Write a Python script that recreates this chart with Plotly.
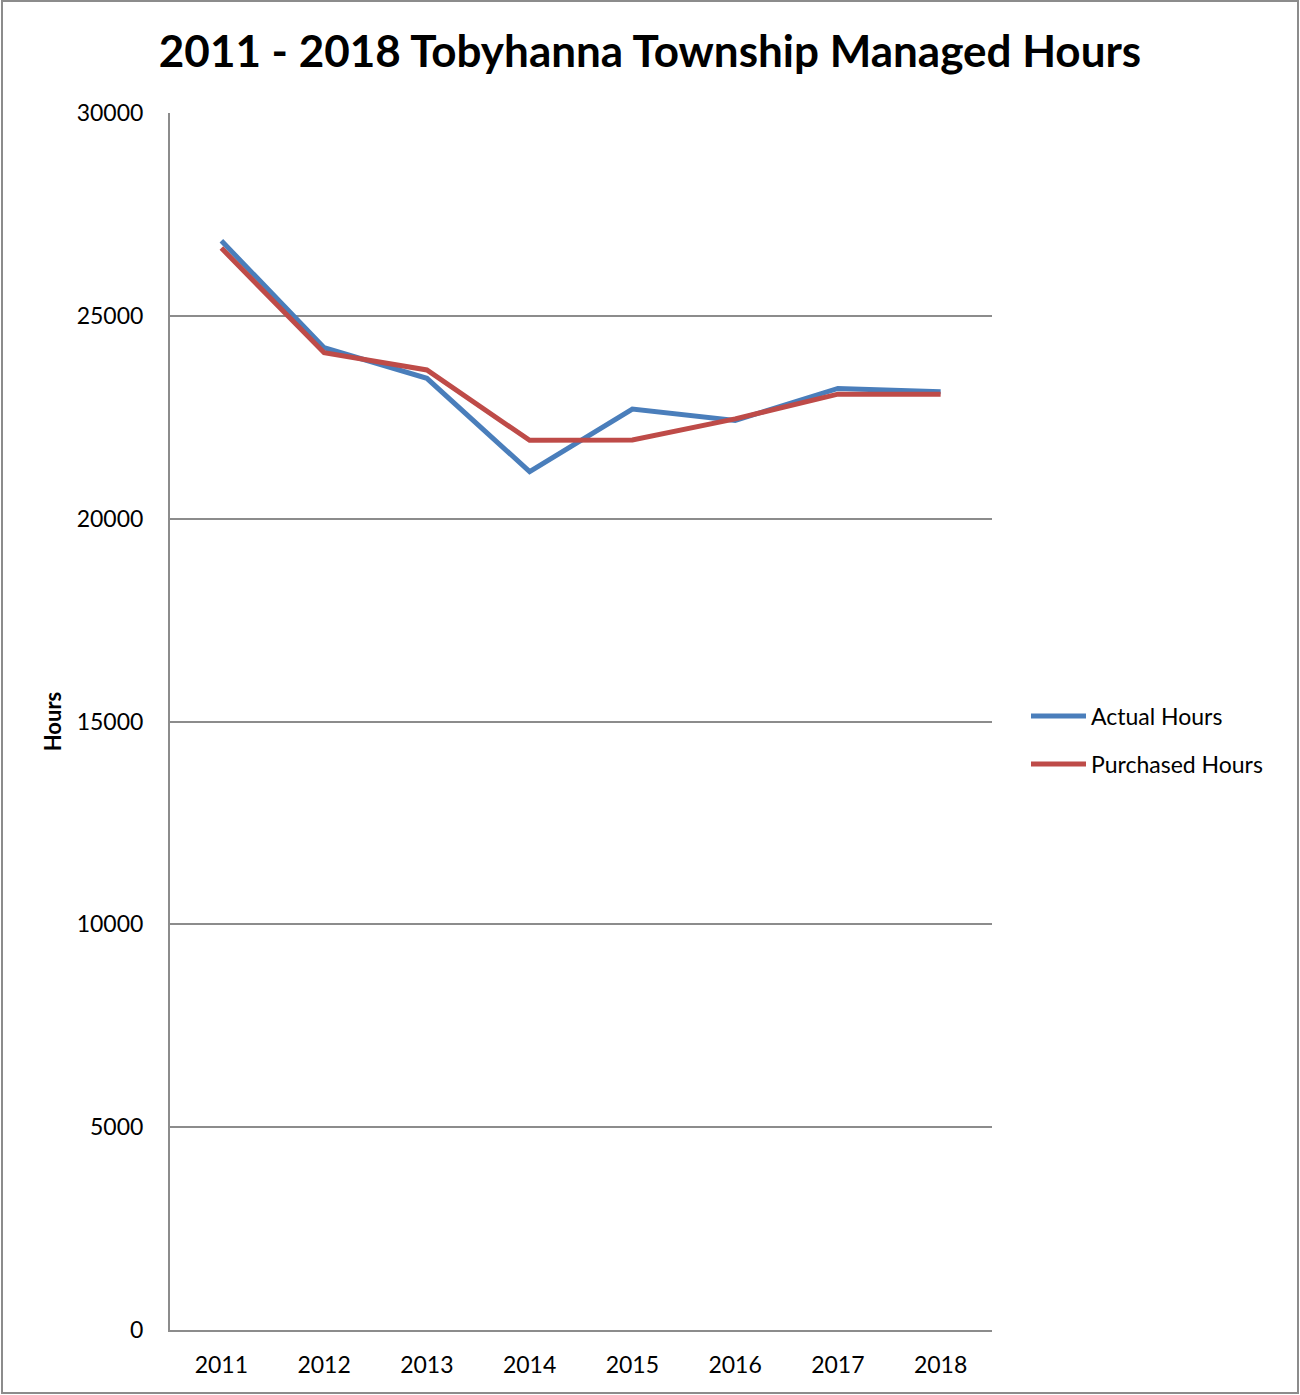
import plotly.graph_objects as go

years = ["2011", "2012", "2013", "2014", "2015", "2016", "2017", "2018"]
actual_hours = [26850, 24215, 23460, 21160, 22700, 22420, 23210, 23130]
purchased_hours = [26670, 24090, 23665, 21930, 21940, 22460, 23070, 23070]
y_ticks = [0, 5000, 10000, 15000, 20000, 25000, 30000]
y_tick_labels = ["0", "5000", "10000", "15000", "20000", "25000", "30000"]

W, H = 1300, 1395
ml, mr, mt, mb = 170, 308, 113, 65
pw, ph = W - ml - mr, H - mt - mb

FONT = "Lato"
BLUE = "#4A7EBB"
RED = "#BE4B48"
GRID = "#8C8C8C"

fig = go.Figure()
fig.add_trace(go.Scatter(x=years, y=actual_hours, mode="lines", name="Actual Hours",
                         line=dict(color=BLUE, width=5), legend="legend"))
fig.add_trace(go.Scatter(x=years, y=purchased_hours, mode="lines", name="Purchased Hours",
                         line=dict(color=RED, width=5), legend="legend2"))

def px_x(p):
    return (p - ml) / pw

def px_y(p):
    return (H - mb - p) / ph

fig.update_layout(
    width=W, height=H,
    margin=dict(l=ml, r=mr, t=mt, b=mb),
    paper_bgcolor="white", plot_bgcolor="white",
    font=dict(family=FONT, size=23, color="black"),
    title=dict(text="<b>2011 - 2018 Tobyhanna Township Managed Hours</b>",
               x=0.5, xanchor="center", y=1 - 52 / H, yanchor="middle",
               font=dict(family=FONT, size=44, color="black")),
    xaxis=dict(type="category", range=[-0.5, 7.5], showgrid=False,
               showline=True, linecolor=GRID, linewidth=2, ticks="",
               ticklabelstandoff=13, tickfont=dict(size=23)),
    yaxis=dict(range=[0, 30000], tickvals=y_ticks, ticktext=y_tick_labels,
               showgrid=True, gridcolor=GRID, gridwidth=1.5, showline=True,
               linecolor=GRID, linewidth=2, ticks="", zeroline=False,
               ticklabelstandoff=20, tickfont=dict(size=23),
               title=dict(text="<b>Hours</b>", font=dict(size=22), standoff=9)),
    legend=dict(x=px_x(1026), y=px_y(716), xanchor="left", yanchor="middle",
                font=dict(size=23), bgcolor="rgba(0,0,0,0)", itemwidth=55),
    legend2=dict(x=px_x(1026), y=px_y(764), xanchor="left", yanchor="middle",
                 font=dict(size=23), bgcolor="rgba(0,0,0,0)", itemwidth=55),
    showlegend=True,
    shapes=[dict(type="rect", xref="paper", yref="paper",
                 x0=px_x(2), x1=px_x(1298), y0=px_y(1393), y1=px_y(1),
                 line=dict(color="#8C8C8C", width=2), fillcolor="rgba(0,0,0,0)",
                 layer="below")],
)

fig.write_html("out.html", config={"displayModeBar": False},
               post_script="document.body.style.margin='0';document.body.style.padding='0';")
